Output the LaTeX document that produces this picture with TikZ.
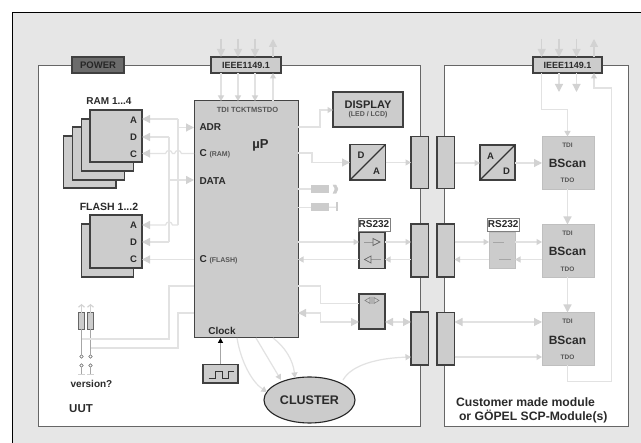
\documentclass[tikz,border=0pt]{standalone}
\usepackage{fontspec}
\setmainfont{Liberation Sans}
\usetikzlibrary{arrows.meta,shapes.geometric}
\definecolor{bgc}{HTML}{E6E6E6}
\definecolor{fillc}{HTML}{CCCCCC}
\definecolor{edgec}{HTML}{444444}
\definecolor{wirec}{HTML}{E2E2E2}
\definecolor{tipc}{HTML}{D2D2D2}
\definecolor{txtc}{HTML}{2A2A2A}
\definecolor{smallc}{HTML}{555555}
\newcommand{\sz}[1]{\fontsize{#1}{#1}\selectfont}
\tikzset{
  cell/.style={draw=edgec,fill=fillc,line width=1pt,inner sep=0,outer sep=0,text=txtc,font=\bfseries\sz{9},align=center},
  darkcell/.style={cell,line width=1.3pt,draw=black!75},
  softcell/.style={cell,draw=black!25,line width=.9pt},
  labelcell/.style={draw=black!50,fill=white,line width=.6pt,inner sep=0,outer sep=0,font=\bfseries\sz{10},text=txtc},
  panel/.style={draw=black!60,fill=white,line width=1pt,inner sep=0,outer sep=0},
  stub/.style={fill=fillc,inner sep=0,outer sep=0},
  wire/.style={draw=wirec,line width=1.2pt},
  big/.style={wire,-{Triangle[length=8pt,width=8pt,color=tipc]}},
  small/.style={wire,-{Triangle[length=5.5pt,width=6pt,color=tipc]}},
  bothbig/.style={wire,{Triangle[length=8pt,width=8pt,color=tipc]}-{Triangle[length=8pt,width=8pt,color=tipc]}},
  topline/.style={big,draw=tipc},
  thick grey/.style={draw=tipc,line width=1.1pt},
  txt/.style={inner sep=0,outer sep=0,text=txtc,font=\bfseries\sz{9.5}},
  tiny/.style={inner sep=0,outer sep=0,text=smallc,font=\bfseries\sz{6.5}},
  pin/.style={circle,draw=black!60,fill=white,line width=.6pt,minimum size=3.6pt,inner sep=0,outer sep=0},
}
\newcommand{\bx}[7]{\node[#6,minimum width={(#4-#2)*1pt},minimum height={(#5-#3)*1pt}] (#1) at ({(#2+#4)/2},{(#3+#5)/2}) {#7};}
\begin{document}
\begin{tikzpicture}[x=1pt,y=-1pt]
\useasboundingbox (0,0) rectangle (641,443);
% ground
\fill[white] (0,0) rectangle (641,443);
\fill[bgc] (12,12.5) rectangle (641,443);
\draw[black,line width=1pt] (12,443) -- (12,12.5) -- (641,12.5);
% panels
\bx{uut}{38.5}{65.5}{420.5}{427}{panel}{}
\bx{cust}{444.3}{65.5}{628}{427}{panel}{}
% header boxes
\bx{power}{72}{57}{124}{73}{cell,fill=black!58,draw=black!75,line width=1.2pt}{\sz{9.5}\color{black!85}POWER}
\bx{ieeeL}{211}{57}{281}{73}{darkcell}{IEEE1149.1}
\bx{ieeeR}{533}{57}{602}{73}{darkcell}{IEEE1149.1}
% RAM
\bx{ram4}{63.5}{136}{116}{188}{darkcell}{}
\bx{ram3}{72.5}{127}{124.5}{180}{darkcell}{}
\bx{ram2}{81.5}{119}{133.5}{171}{darkcell}{}
\bx{ram1}{90}{110}{142}{162}{darkcell}{}
\node[txt,font=\bfseries\sz{10}] (ramlab) at (109,101) {RAM 1...4};
\node[txt] (ramA) at (133.5,120) {A};
\node[txt] (ramD) at (133.5,137) {D};
\node[txt] (ramC) at (133.5,154) {C};
% FLASH
\bx{fl2}{81.5}{224}{133.5}{277}{darkcell}{}
\bx{fl1}{90}{215}{142}{268}{darkcell}{}
\node[txt,font=\bfseries\sz{10.5}] (fllab) at (109,207) {FLASH 1...2};
\node[txt] (flA) at (133.5,225) {A};
\node[txt] (flD) at (133.5,242) {D};
\node[txt] (flC) at (133.5,259) {C};
% chip
\bx{chip}{194}{101}{298}{338}{cell}{}
\node[tiny,font=\bfseries\sz{7.5}] (pins) at (247.5,109.5) {TDI TCKTMSTDO};
\node[txt,anchor=west,font=\bfseries\sz{10}] (adr) at (199.5,127.5) {ADR};
\node[txt,anchor=west,font=\bfseries\sz{10}] (cram) at (199.5,154) {C \sz{7}\color{smallc}(RAM)};
\node[txt,anchor=west,font=\bfseries\sz{10}] (data) at (199.5,181) {DATA};
\node[txt,anchor=west,font=\bfseries\sz{10}] (cfl) at (199.5,260) {C \sz{7}\color{smallc}(FLASH)};
\node[txt,font=\bfseries\sz{13}] (up) at (260.5,145) {µP};
\node[txt,font=\bfseries\sz{10}] (clk) at (222,331) {Clock};
% display
\bx{disp}{333}{92}{403}{127}{darkcell}{\sz{11}DISPLAY\\[-1pt]\sz{7}\color{smallc}(LED / LCD)}
% converters
\bx{da}{350}{144.5}{385.5}{180}{darkcell}{}
\draw[black!80,line width=1.1pt] (da.south west) -- (da.north east);
\node[txt] (daD) at (361,155.5) {D};
\node[txt] (daA) at (376.5,171) {A};
\bx{ad}{480}{145}{515}{180}{darkcell}{}
\draw[black!80,line width=1.1pt] (ad.south west) -- (ad.north east);
\node[txt] (adA) at (490.5,156) {A};
\node[txt] (adD) at (506.5,171.5) {D};
% plug pairs
\bx{pL1}{411}{136.5}{428.5}{188.5}{darkcell}{}
\bx{pR1}{437}{136.5}{454.5}{188.5}{darkcell}{}
\bx{pL2}{411}{224}{428.5}{277}{darkcell}{}
\bx{pR2}{437}{224}{454.5}{277}{darkcell}{}
\bx{pL3}{411}{312}{428.5}{365}{darkcell}{}
\bx{pR3}{437}{312.5}{454.5}{365}{darkcell}{}
% bscan
\bx{bs1}{542}{136.5}{594}{189}{softcell}{}
\bx{bs2}{542}{224.5}{594}{277}{softcell}{}
\bx{bs3}{542}{312.5}{594}{365}{softcell}{}
\foreach \n/\a/\b/\c in {bs1/145/163.5/180.5,bs2/233.5/251.5/269,bs3/321.5/340/357}{
  \node[tiny] at (567.5,\a) {TDI};
  \node[inner sep=0,text=txtc,font=\bfseries\sz{12}] at (567.5,\b) {BScan};
  \node[tiny] at (567.5,\c) {TDO};
}
% RS232 left
\bx{rsL}{359}{232.5}{385}{268.5}{darkcell}{}
\bx{rsLlab}{358}{218}{390}{231}{labelcell}{RS232}
\draw[black!40,line width=.7pt] (364,242) -- (373,242);
\draw[black!60,line width=.7pt] (373,238.5) -- (380,242) -- (373,245.5) -- cycle;
\draw[black!40,line width=.7pt] (371,259.5) -- (381,259.5);
\draw[black!60,line width=.7pt] (371,256) -- (364.5,259.5) -- (371,263) -- cycle;
% RS232 right
\bx{rsR}{489}{232}{515}{268.5}{softcell}{}
\bx{rsRlab}{487}{218}{519.5}{231}{labelcell}{RS232}
\draw[black!35,line width=.8pt] (493,242) -- (504,242);
\draw[black!35,line width=.8pt] (499,259.5) -- (511,259.5);
% bus transceiver
\bx{bt}{359}{294}{385}{329}{darkcell}{}
\draw[black!50,line width=.6pt] (370,297.5) -- (365,300.5) -- (370,303.5) -- cycle (374,297.5) -- (379,300.5) -- (374,303.5) -- cycle (372,297) -- (372,304);
% stubs
\bx{s1}{311}{185}{329}{193}{stub}{}
\bx{s2}{311}{203.5}{329}{211}{stub}{}
\draw[fill=fillc,draw=fillc] (333,185) -- (336,185) -- (338,189) -- (336,193.5) -- (333,193.5) -- (335,189) -- cycle;
\draw[fillc,line width=2pt] (337,202) -- (337,211.5);
\draw[wire] (s1.west) -- (chip.east |- s1.west);
\draw[wire] (s2.west) -- (chip.east |- s2.west);
\draw[wire] (s2.east) -- (336,207.2);
% cluster
\node[ellipse,draw=black!85,fill=fillc,line width=1.1pt,minimum width=91pt,minimum height=46pt,inner sep=0,outer sep=0,text=txtc,font=\bfseries\sz{12.5}] (cluster) at (309.5,400) {CLUSTER};
% clock generator
\bx{gen}{203}{364.5}{238}{383}{darkcell}{}
\draw[black!80,line width=.9pt] (208.5,378) -- (215,378) -- (215,371) -- (222,371) -- (222,378) -- (228.5,378) -- (228.5,371) -- (234,371);
\draw[draw=black!35,line width=1.2pt,-{Triangle[length=5pt,width=5pt,color=black]}] (gen.north -| 220.5,0) -- (chip.south -| 220.5,0);
% JTAG left
\foreach \x in {221,238,255}{
  \coordinate (a\x) at (\x,39);
  \draw[topline] (a\x) -- (ieeeL.north -| a\x);
  \draw[small] (ieeeL.south -| a\x) -- (chip.north -| a\x);
}
\coordinate (a273) at (273,39);
\draw[topline] (ieeeL.north -| a273) -- (a273);
\draw[small] (chip.north -| a273) -- (ieeeL.south -| a273);
% JTAG right
\foreach \n/\x in {1/541.7,2/559,3/576.5}{
  \coordinate (b\n) at (\x,39);
  \draw[topline] (b\n) -- (ieeeR.north -| b\n);
}
\coordinate (b4) at (594,39);
\draw[topline] (ieeeR.north -| b4) -- (b4);
\draw[big] (ieeeR.south -| 559,0) -- (559,92);
\draw[big] (ieeeR.south -| 576.5,0) -- (576.5,92);
\draw[small] (ieeeR.south -| 541.7,0) -- (541.7,109.5) -- (567.5,109.5) -- (bs1.north -| 567.5,0);
\draw[big] (bs1.south -| 567.5,0) -- (bs2.north -| 567.5,0);
\draw[big] (bs2.south -| 567.5,0) -- (bs3.north -| 567.5,0);
\draw[small] (bs3.south -| 567.5,0) -- (567.5,381.7) -- (611.7,381.7) -- (611.7,88) -- (594,88) -- (ieeeR.south -| 594,0);
% memory buses
\draw[big] (178,127.5) -- (chip.west |- 178,127.5);
\draw[big] (169,180) -- (chip.west |- 169,180);
\draw[big] (178,119) -- (ram1.east |- 178,119);
\draw[wire] (178,119) -- (178,225);
\draw[big] (169,137) -- (ram1.east |- 169,137);
\draw[wire] (169,137) -- (169,242);
\draw[big] (chip.west |- 0,153.5) -- (181.5,153.5) .. controls (180.5,149.5) and (175.5,149.5) .. (174.5,153.5) -- (172.5,153.5) .. controls (171.5,149.5) and (166.5,149.5) .. (165.5,153.5) -- (ram1.east |- 0,153.5);
\draw[big] (178,225) -- (172.5,225) .. controls (171.5,221) and (166.5,221) .. (165.5,225) -- (fl1.east |- 0,225);
\draw[big] (169,242) -- (fl1.east |- 0,242);
\draw[big] (chip.west |- 0,259.5) -- (fl1.east |- 0,259.5);
% version resistors
\bx{r1}{78.5}{312.7}{84.5}{329.5}{cell,line width=.7pt,draw=black!60}{}
\bx{r2}{87.5}{312.7}{93.5}{329.5}{cell,line width=.7pt,draw=black!60}{}
\node[pin] (p1a) at (81.5,356.5) {};
\node[pin] (p2a) at (90.5,356.5) {};
\node[pin] (p1b) at (81.5,365.5) {};
\node[pin] (p2b) at (90.5,365.5) {};
\coordinate (g1) at (81.5,375);
\coordinate (g2) at (90.5,375);
\coordinate (t1) at (81.5,304);
\coordinate (t2) at (90.5,304);
\foreach \a/\b in {r1/t1,r2/t2}{\draw[thick grey,-{Straight Barb[length=2.5pt,width=6pt,color=tipc]}] (\a.north) -- (\b);}
\foreach \a/\b in {r1/p1a,r2/p2a,p1b/g1,p2b/g2}{\draw[draw=black!35,line width=.9pt] (\a) -- (\b);}
\draw[tipc,line width=1pt] (78,375) -- (85,375) (87,375) -- (94,375);
\node[txt,font=\bfseries\sz{10}] (ver) at (91.5,383.5) {version?};
\node[inner sep=0,text=txtc,font=\bfseries\sz{11.5},anchor=west] (uutlab) at (69,409) {UUT};
\draw[wire] (chip.west |- 0,286) -- (169,286) -- (169,339) -- (81.5,339);
\draw[wire] (chip.west |- 0,313) -- (178,313) -- (178,348) -- (90.5,348);
% to cluster
\draw[small] (237,338) .. controls (241,362) and (252,382) .. (267,392);
\draw[small] (256,338) -- (281,380);
\draw[small] (273,338) .. controls (285,347) and (293,360) .. (295,378);
\draw[small] (343,380) .. controls (352,364) and (380,358) .. (pL3.west |- 0,357);
% right side of chip
\draw[small] (chip.east |- 0,127) -- (320,127) -- (320,110) -- (disp.west |- 0,110);
\draw[big] (chip.east |- 0,153) -- (312,153) -- (312,162.5) -- (da.west |- 0,162.5);
\draw[small] (da.east |- 0,162.5) -- (pL1.west |- 0,162.5);
\draw[small] (pR1.east |- 0,163) -- (ad.west |- 0,163);
\draw[big] (ad.east |- 0,163) -- (bs1.west |- 0,163);
\draw[small] (chip.east |- 0,242) -- (rsL.west |- 0,242);
\draw[small] (rsL.east |- 0,242) -- (pL2.west |- 0,242);
\draw[small] (rsL.west |- 0,259.5) -- (chip.east |- 0,259.5);
\draw[small] (pL2.west |- 0,259.5) -- (rsL.east |- 0,259.5);
\draw[small] (pR2.east |- 0,242) -- (rsR.west |- 0,242);
\draw[small] (rsR.east |- 0,242) -- (bs2.west |- 0,242);
\draw[small] (rsR.west |- 0,259.5) -- (pR2.east |- 0,259.5);
\draw[small] (bs2.west |- 0,259.5) -- (rsR.east |- 0,259.5);
\draw[wire] (chip.east |- 0,286) -- (320.5,286) -- (320.5,303.3) -- (bt.west |- 0,303.3);
\draw[bothbig] (chip.east |- 0,313) -- (320.5,313) -- (320.5,322) -- (bt.west |- 0,322);
\draw[bothbig] (bt.east |- 0,322) -- (pL3.west |- 0,322);
\draw[bothbig] (pR3.east |- 0,322) -- (bs3.west |- 0,322);
\draw[small] (pR3.east |- 0,357) -- (bs3.west |- 0,357);
% captions
\node[txt,anchor=west,font=\bfseries\sz{12.2}] (c1) at (456,402.5) {Customer made module};
\node[txt,anchor=west,font=\bfseries\sz{12.2}] (c2) at (459,417) {or GÖPEL SCP-Module(s)};
\end{tikzpicture}
\end{document}
